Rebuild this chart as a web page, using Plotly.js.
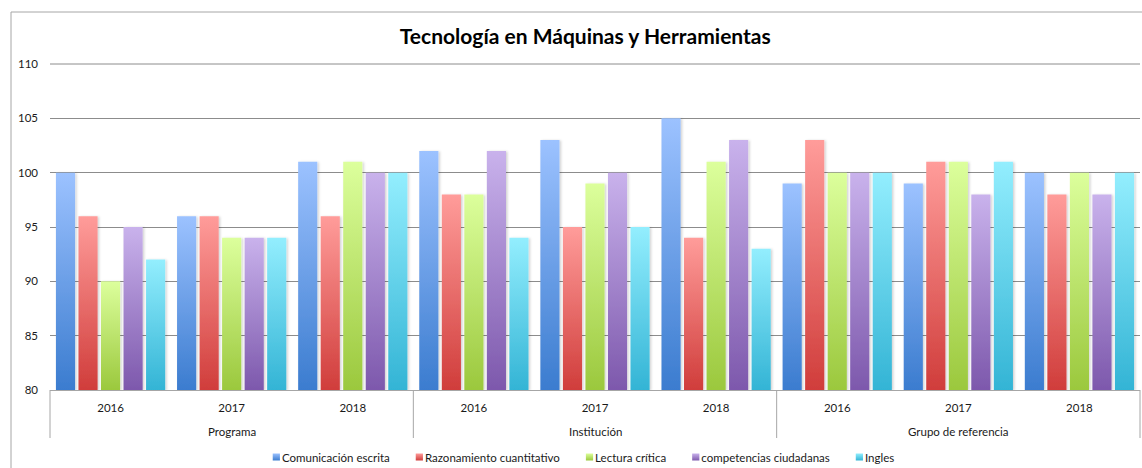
<!DOCTYPE html>
<html>
<head>
<meta charset="utf-8">
<script src="https://cdn.plot.ly/plotly-3.0.1.min.js"></script>
<style>
  html, body { margin: 0; padding: 0; background: #fff; }
  #chart { width: 1142px; height: 468px; }
</style>
</head>
<body>
<div id="chart"></div>
<script>
// ---- data ----
const groups = ['Programa', 'Institución', 'Grupo de referencia'];
const years = ['2016', '2017', '2018'];
const seriesNames = ['Comunicación escrita', 'Razonamiento cuantitativo', 'Lectura crítica', 'competencias ciudadanas', 'Ingles'];
const comunicacion = [100, 96, 101, 102, 103, 105, 99, 99, 100];
const razonamiento = [96, 96, 96, 98, 95, 94, 103, 101, 98];
const lectura = [90, 94, 101, 98, 99, 101, 100, 101, 100];
const competencias = [95, 94, 100, 102, 100, 103, 100, 98, 98];
const ingles = [92, 94, 100, 94, 95, 93, 100, 101, 100];
const seriesValues = [comunicacion, razonamiento, lectura, competencias, ingles];
const axisMin = 80, axisMax = 110;

// ---- styling ----
const gradTop = ['#9cc2ff', '#ff9c9a', '#dcff9c', '#c9b2ec', '#93eefe'];
const gradBot = ['#3b7ccf', '#d03d3b', '#9bc83d', '#7d58ac', '#33b4d5'];
const midCol = ['#6a9ee8', '#e86c6a', '#bde46c', '#a384cc', '#63d2ea'];

// category positions (one slot per group/year pair)
const xYears = [], xIndex = [];
groups.forEach((g, gi) => years.forEach((y, yi) => {
  xYears.push(y);
  xIndex.push(gi * years.length + yi);
}));
const nCat = xIndex.length;

// bars start at the axis minimum so each bar's gradient spans its visible height
const traces = seriesNames.map((name, i) => ({
  type: 'bar',
  name: name,
  x: xIndex,
  y: seriesValues[i].map(v => v - axisMin),
  base: axisMin,
  customdata: xIndex.map(k => [groups[Math.floor(k / years.length)] + ' ' + xYears[k], seriesValues[i][k]]),
  marker: { color: midCol[i], line: { width: 0 } },
  hovertemplate: '%{customdata[0]}: %{customdata[1]}<extra>' + name + '</extra>'
}));

const W = 1142, H = 468;
const L = 50, R = 2, T = 64, B = 78;
const pw = W - L - R, ph = H - T - B;
const px = v => (v - L) / pw;
const py = v => 1 - (v - T) / ph;

const shapes = [{
  type: 'rect', xref: 'paper', yref: 'paper',
  x0: px(11), x1: px(1160), y0: py(12), y1: py(490),
  line: { color: '#a6a6a6', width: 1 }, fillcolor: 'rgba(0,0,0,0)', layer: 'below'
}, {
  type: 'line', xref: 'paper', yref: 'paper',
  x0: 0, x1: 1, y0: 1, y1: 1,
  line: { color: '#8c8c8c', width: 1 }, layer: 'below'
}];
// group dividers
for (let gi = 0; gi <= groups.length; gi++) {
  const xp = (gi * years.length) / nCat;
  shapes.push({
    type: 'line', xref: 'paper', yref: 'paper',
    x0: xp, x1: xp, y0: 0, y1: py(438),
    line: { color: '#a6a6a6', width: 1 }
  });
}
const annotations = groups.map((g, gi) => ({
  text: g, xref: 'paper', yref: 'paper',
  x: (gi * years.length + years.length / 2) / nCat, y: py(431),
  xanchor: 'center', yanchor: 'middle', showarrow: false,
  font: { size: 11.5, color: '#1a1a1a' }
}));

const layout = {
  width: W, height: H,
  margin: { l: L, r: R, t: T, b: B },
  paper_bgcolor: '#fff',
  plot_bgcolor: '#fff',
  font: { family: 'Lato, "Open Sans", sans-serif', size: 11.5, color: '#1a1a1a' },
  title: {
    text: '<b>Tecnología en Máquinas y Herramientas</b>',
    font: { family: 'Lato, "Open Sans", sans-serif', size: 21, color: '#000' },
    x: 0.5125, xanchor: 'center', y: 0.922, yanchor: 'middle'
  },
  barmode: 'group',
  bargap: 0.07,
  bargroupgap: 0.15,
  showlegend: true,
  legend: {
    orientation: 'h', x: 0.49, xanchor: 'center',
    yref: 'container', y: 1 - 457 / H, yanchor: 'middle',
    font: { size: 11.5, color: '#1a1a1a' }, itemwidth: 30, tracegroupgap: 0,
    traceorder: 'normal'
  },
  xaxis: {
    type: 'linear', automargin: false,
    range: [-0.5, nCat - 0.5],
    tickmode: 'array', tickvals: xIndex, ticktext: xYears,
    showline: true, linecolor: '#a6a6a6', linewidth: 1,
    tickfont: { size: 11.5, color: '#1a1a1a' },
    ticklabelstandoff: 7,
    ticks: '', showgrid: false, zeroline: false, fixedrange: true
  },
  yaxis: {
    range: [axisMin, axisMax], dtick: 5, tick0: axisMin, automargin: false,
    showgrid: true, gridcolor: '#8c8c8c', gridwidth: 1,
    showline: false, zeroline: false, ticks: '',
    tickfont: { size: 11.5, color: '#1a1a1a' },
    ticklabelstandoff: 11, fixedrange: true
  },
  shapes: shapes,
  annotations: annotations
};

const svgNS = 'http://www.w3.org/2000/svg';
function ensureDefs(gd) {
  const defs = gd.querySelector('.main-svg defs');
  if (!defs || defs.querySelector('#barGrad0')) return;
  seriesNames.forEach((n, i) => {
    const lg = document.createElementNS(svgNS, 'linearGradient');
    lg.setAttribute('id', 'barGrad' + i);
    lg.setAttribute('x1', '0'); lg.setAttribute('y1', '0');
    lg.setAttribute('x2', '0'); lg.setAttribute('y2', '1');
    const s1 = document.createElementNS(svgNS, 'stop');
    s1.setAttribute('offset', '0'); s1.setAttribute('stop-color', gradTop[i]);
    const s2 = document.createElementNS(svgNS, 'stop');
    s2.setAttribute('offset', '1'); s2.setAttribute('stop-color', gradBot[i]);
    lg.appendChild(s1); lg.appendChild(s2);
    defs.appendChild(lg);
  });
  const flt = document.createElementNS(svgNS, 'filter');
  flt.setAttribute('id', 'barShadow');
  flt.setAttribute('x', '-20%'); flt.setAttribute('y', '-5%');
  flt.setAttribute('width', '150%'); flt.setAttribute('height', '110%');
  const ds = document.createElementNS(svgNS, 'feDropShadow');
  ds.setAttribute('dx', '1.5'); ds.setAttribute('dy', '0.5');
  ds.setAttribute('stdDeviation', '1');
  ds.setAttribute('flood-color', '#000'); ds.setAttribute('flood-opacity', '0.18');
  flt.appendChild(ds);
  defs.appendChild(flt);
}

function decorate(gd) {
  ensureDefs(gd);
  gd.querySelectorAll('.barlayer .trace').forEach((tr, i) => {
    tr.querySelectorAll('path').forEach(p => {
      p.style.fill = 'url(#barGrad' + i + ')';
      p.setAttribute('filter', 'url(#barShadow)');
    });
  });
  // legend: small gradient swatch next to text, compact item spacing
  const items = Array.from(gd.querySelectorAll('.legend .traces'));
  if (!items.length) return;
  const GAP = 26, SW = 7.2, SWGAP = 2;
  const widths = items.map((tr, i) => {
    tr.querySelectorAll('.legendpoints path').forEach(p => {
      p.style.fill = 'url(#barGrad' + i + ')';
      p.setAttribute('transform', 'translate(' + (40 - SWGAP - SW / 2) + ',0) scale(0.6)');
    });
    const t = tr.querySelector('text.legendtext');
    return t ? t.getComputedTextLength() : 0;
  });
  const itemW = widths.map(w => SW + SWGAP + w);
  const total = itemW.reduce((a, b) => a + b, 0) + GAP * (items.length - 1);
  const firstSw = items[0].querySelector('.legendpoints path');
  const r0 = firstSw.getBoundingClientRect();
  const parse = s => { const m = /translate\(\s*([-\d.e]+)[ ,]+([-\d.e]+)/.exec(s || ''); return m ? [+m[1], +m[2]] : [0, 0]; };
  const [x0] = parse(items[0].getAttribute('transform'));
  const originAbs = r0.left - (40 - SWGAP - SW);
  const centerAbs = 583.5;
  let cur = centerAbs - total / 2;
  items.forEach((tr, i) => {
    const [, y] = parse(tr.getAttribute('transform'));
    const originX = x0 + (cur - (40 - SWGAP - SW)) - originAbs;
    tr.setAttribute('transform', 'translate(' + originX + ',' + y + ')');
    cur += itemW[i] + GAP;
  });
}

Plotly.newPlot('chart', traces, layout, { displayModeBar: false }).then(gd => {
  gd.on('plotly_afterplot', () => decorate(gd));
  decorate(gd);
  setTimeout(() => decorate(gd), 50);
});
</script>
</body>
</html>
